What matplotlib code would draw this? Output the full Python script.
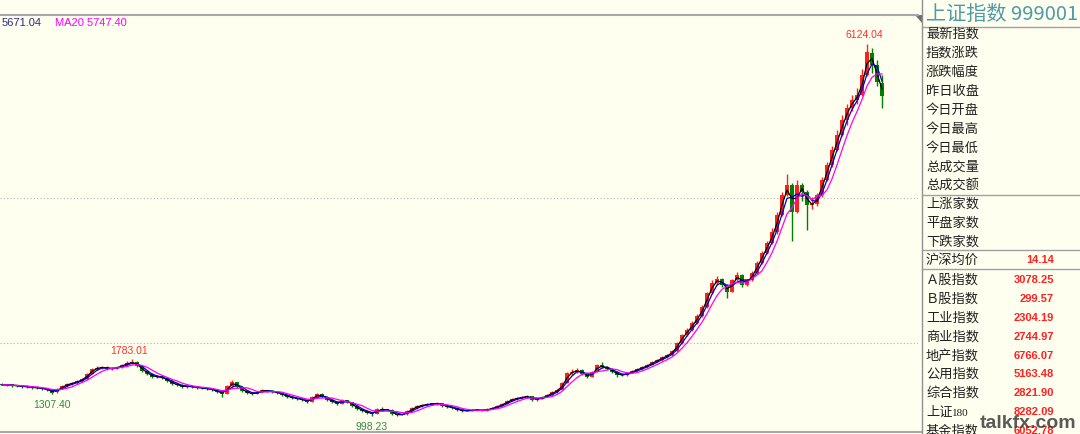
import numpy as np
import pandas as pd
import matplotlib.pyplot as plt
from matplotlib.patches import Polygon

plt.rcParams['font.family'] = ['Noto Sans CJK SC', 'DejaVu Sans']

# weekly-ish candles (Shanghai composite, 2003-2007)
opens = [1440, 1424, 1432, 1410, 1414, 1396, 1402, 1382, 1390, 1372,
         1354, 1322, 1372, 1410, 1440, 1450, 1482, 1508, 1578, 1646,
         1660, 1675, 1644, 1652, 1675, 1702, 1730, 1738, 1686, 1620,
         1575, 1533, 1542, 1520, 1482, 1438, 1426, 1398, 1410, 1396,
         1385, 1379, 1371, 1355, 1328, 1302, 1412, 1464, 1395, 1344,
         1314, 1300, 1330, 1355, 1340, 1330, 1314, 1286, 1262, 1245,
         1234, 1216, 1193, 1262, 1300, 1258, 1220, 1190, 1165, 1216,
         1190, 1138, 1092, 1068, 1040, 1032, 1092, 1080, 1084, 1025,
         1012, 1022, 1068, 1106, 1138, 1150, 1162, 1158, 1176, 1138,
         1120, 1110, 1080, 1066, 1072, 1083, 1084, 1068, 1095, 1110,
         1135, 1165, 1206, 1234, 1245, 1262, 1270, 1220, 1234, 1262,
         1288, 1330, 1358, 1455, 1592, 1605, 1630, 1578, 1536, 1606,
         1702, 1672, 1646, 1602, 1562, 1558, 1592, 1620, 1646, 1675,
         1702, 1744, 1770, 1812, 1840, 1895, 2005, 2115, 2184, 2280,
         2378, 2500, 2695, 2830, 2886, 2800, 2708, 2872, 2938, 2800,
         2872, 2970, 3106, 3245, 3382, 3535, 3768, 4045, 4180, 3810,
         4175, 4080, 3900, 3912, 4045, 4250, 4456, 4660, 4870, 5075,
         5240, 5350, 5420, 5700, 6000, 5830, 5590]

highs = [1452, 1445, 1440, 1428, 1422, 1418, 1410, 1405, 1398, 1380,
         1362, 1378, 1420, 1448, 1470, 1492, 1520, 1590, 1660, 1682,
         1690, 1688, 1668, 1690, 1718, 1750, 1783.01, 1752, 1695, 1630,
         1590, 1565, 1558, 1530, 1492, 1460, 1435, 1430, 1422, 1408,
         1398, 1390, 1380, 1362, 1335, 1420, 1496, 1472, 1402, 1352,
         1325, 1340, 1368, 1362, 1350, 1338, 1322, 1295, 1270, 1255,
         1242, 1225, 1272, 1318, 1308, 1265, 1228, 1198, 1230, 1225,
         1195, 1145, 1100, 1075, 1050, 1110, 1115, 1100, 1090, 1035,
         1032, 1075, 1118, 1148, 1162, 1178, 1175, 1190, 1182, 1145,
         1130, 1116, 1088, 1082, 1092, 1098, 1090, 1102, 1118, 1145,
         1172, 1215, 1245, 1262, 1275, 1292, 1278, 1245, 1270, 1298,
         1340, 1372, 1465, 1610, 1650, 1660, 1640, 1590, 1615, 1720,
         1742, 1690, 1655, 1612, 1580, 1600, 1630, 1660, 1688, 1715,
         1755, 1785, 1825, 1858, 1910, 2020, 2130, 2205, 2300, 2400,
         2520, 2710, 2870, 2930, 2900, 2820, 2890, 2985, 2960, 2890,
         2990, 3130, 3270, 3410, 3580, 3800, 4080, 4335, 4210, 4250,
         4200, 4110, 4020, 4070, 4290, 4500, 4720, 4930, 5140, 5300,
         5420, 5510, 5780, 6124.04, 6060, 5900, 5700]

lows = [1418, 1410, 1400, 1398, 1385, 1380, 1372, 1370, 1360, 1342,
        1307.40, 1315, 1365, 1400, 1428, 1440, 1472, 1500, 1570, 1630,
        1640, 1628, 1625, 1640, 1662, 1690, 1712, 1675, 1605, 1560,
        1522, 1515, 1508, 1468, 1425, 1410, 1385, 1390, 1385, 1372,
        1365, 1356, 1342, 1315, 1260, 1295, 1400, 1385, 1330, 1302,
        1290, 1295, 1322, 1330, 1318, 1302, 1275, 1250, 1232, 1220,
        1205, 1182, 1188, 1255, 1248, 1205, 1180, 1150, 1158, 1180,
        1125, 1082, 1055, 1028, 998.23, 1025, 1070, 1068, 1018, 1004,
        1005, 1015, 1060, 1100, 1128, 1142, 1148, 1150, 1128, 1112,
        1098, 1070, 1058, 1060, 1065, 1072, 1060, 1062, 1088, 1102,
        1130, 1158, 1198, 1225, 1236, 1250, 1208, 1210, 1226, 1255,
        1280, 1320, 1350, 1448, 1560, 1590, 1560, 1520, 1528, 1598,
        1660, 1630, 1590, 1541, 1545, 1552, 1585, 1612, 1638, 1665,
        1695, 1735, 1762, 1800, 1830, 1885, 1995, 2100, 2170, 2265,
        2360, 2490, 2680, 2800, 2780, 2620, 2700, 2860, 2770, 2785,
        2860, 2950, 3090, 3225, 3360, 3510, 3750, 4030, 3404, 3790,
        3960, 3563, 3850, 3890, 4020, 4230, 4430, 4640, 4850, 5000,
        5200, 5300, 5400, 5680, 5720, 5540, 5240]

closes = [1425, 1430, 1411, 1415, 1397, 1400, 1384, 1388, 1370, 1356,
          1320, 1370, 1411, 1439, 1452, 1480, 1507, 1576, 1645, 1659,
          1673, 1645, 1650, 1673, 1700, 1728, 1740, 1687, 1618, 1576,
          1535, 1540, 1521, 1480, 1439, 1425, 1397, 1411, 1397, 1384,
          1380, 1370, 1356, 1329, 1301, 1411, 1466, 1397, 1342, 1315,
          1301, 1329, 1356, 1342, 1329, 1315, 1287, 1260, 1246, 1232,
          1218, 1191, 1260, 1301, 1260, 1218, 1191, 1163, 1218, 1191,
          1136, 1094, 1067, 1039, 1030, 1094, 1081, 1085, 1026, 1010,
          1020, 1067, 1108, 1136, 1149, 1163, 1160, 1177, 1136, 1122,
          1108, 1081, 1067, 1070, 1081, 1085, 1067, 1094, 1108, 1136,
          1163, 1205, 1232, 1246, 1260, 1273, 1218, 1232, 1260, 1287,
          1329, 1356, 1452, 1590, 1604, 1632, 1576, 1535, 1604, 1700,
          1673, 1645, 1604, 1563, 1560, 1590, 1618, 1645, 1673, 1700,
          1742, 1769, 1810, 1838, 1893, 2003, 2113, 2182, 2279, 2375,
          2499, 2692, 2829, 2884, 2802, 2706, 2871, 2940, 2802, 2871,
          2967, 3105, 3243, 3380, 3532, 3766, 4041, 4179, 3807, 4179,
          4082, 3904, 3910, 4041, 4248, 4454, 4661, 4867, 5074, 5239,
          5349, 5418, 5694, 6010, 5831, 5597, 5400]

# marked extremes: (candle index, label, kind)
marks = [(173, '6124.04', 'high'), (26, '1783.01', 'high'),
         (10, '1307.40', 'low'), (74, '998.23', 'low')]

info_labels = ['最新指数', '指数涨跌', '涨跌幅度', '昨日收盘', '今日开盘', '今日最高',
               '今日最低', '总成交量', '总成交额', '上涨家数', '平盘家数', '下跌家数',
               '沪深均价', 'Ａ股指数', 'Ｂ股指数', '工业指数', '商业指数', '地产指数',
               '公用指数', '综合指数', '上证180', '基金指数']
info_values = ['', '', '', '', '', '', '', '', '', '', '', '',
               '14.14', '3078.25', '299.57', '2304.19', '2744.97', '6766.07',
               '5163.48', '2821.90', '8282.09', '6052.78']
row_y = [34, 53, 72, 91, 110, 129, 148, 167, 186, 204, 223, 242,
         260, 280, 299, 318, 337, 356, 374, 393, 412, 431]

BG = '#fffff0'
RED = '#ff2020'
GREEN = '#008000'

fig = plt.figure(figsize=(10.8, 4.34), dpi=100, facecolor=BG)

# price chart
ax = fig.add_axes([0, 0, 918 / 1080, 1])
ax.set_facecolor('none')
ax.set_xlim(-0.4, 183.2)
ax.set_ylim(750, 6726)
ax.set_axis_off()

o = np.array(opens, dtype=float)
h = np.array(highs, dtype=float)
l = np.array(lows, dtype=float)
c = np.array(closes, dtype=float)
x = np.arange(len(c))
cols = np.where(c >= o, RED, GREEN)

for lvl in (2000, 4000):
    ax.axhline(lvl, color='#b0b0b0', lw=0.8, ls=(0, (1, 2)), zorder=0)

ax.vlines(x, l, h, colors=cols, lw=1.0, zorder=2)
ax.bar(x, np.maximum(np.abs(c - o), 12), bottom=np.minimum(o, c),
       width=0.75, color=cols, lw=0, zorder=2)

s = pd.Series(c)
ax.plot(x, s.rolling(2, min_periods=1).mean(), color='black', lw=0.9, zorder=3)
ax.plot(x, s.rolling(3, min_periods=1).mean(), color='#0000c0', lw=0.9, zorder=3)
ax.plot(x, s.rolling(5, min_periods=1).mean(), color='#ff00ff', lw=0.9, zorder=3)

for i, txt, kind in marks:
    if kind == 'high':
        ax.annotate(txt, (i, h[i]), xytext=(-2, 6), textcoords='offset points',
                    ha='center', va='center', fontsize=7.5, color='#ff3030',
                    family='Liberation Sans')
    else:
        ax.annotate(txt, (i, l[i]), xytext=(0, -8), textcoords='offset points',
                    ha='center', va='center', fontsize=7.5, color='#2e8b3e',
                    family='Liberation Sans')

# overlay in pixel coordinates for header and info panel
ov = fig.add_axes([0, 0, 1, 1])
ov.set_xlim(0, 1080)
ov.set_ylim(434, 0)
ov.set_axis_off()
ov.patch.set_alpha(0)

ov.plot([0, 918], [15, 15], color='#a8a8a8', lw=1.5)
ov.plot([0, 922], [432, 432], color='#a8a8a8', lw=1.5)
ov.plot([922, 922], [0, 434], color='#909090', lw=1)
ov.add_patch(Polygon([(915, 15), (922, 15), (922, 23)], closed=True,
                     color='#707070', lw=0))
for yy in (27, 195, 250, 269):
    ov.plot([922, 1080], [yy, yy], color='#a0a0a0', lw=1)

ov.text(2, 23, '5671.04', fontsize=8, color='#2a2a8a', va='center',
        family='Liberation Sans')
ov.text(55, 23, 'MA20 5747.40', fontsize=8, color='#ff00ff', va='center',
        family='Liberation Sans')

ov.text(926, 14, '上证指数 999001', fontsize=14.5, color='#4e9aa8', va='center')

for lab, val, yy in zip(info_labels, info_values, row_y):
    if lab == '上证180':
        ov.text(926, yy, '上证', fontsize=9.5, color='#202020', va='center')
        ov.text(952, yy + 1, '180', fontsize=8, color='#202020', va='center',
                family='Liberation Serif')
    else:
        ov.text(926, yy, lab, fontsize=9.5, color='#202020', va='center')
    if val:
        ov.text(1054, yy, val, fontsize=8, color='#ff2020', fontweight='bold',
                ha='right', va='center', family='Liberation Sans')

ov.text(1028, 424, 'talkfx.com', fontsize=14, fontweight='bold', color='#3c3c3c',
        alpha=0.85, ha='center', va='center', family='Liberation Sans')

fig.savefig('out.png', dpi=100, facecolor=BG)
